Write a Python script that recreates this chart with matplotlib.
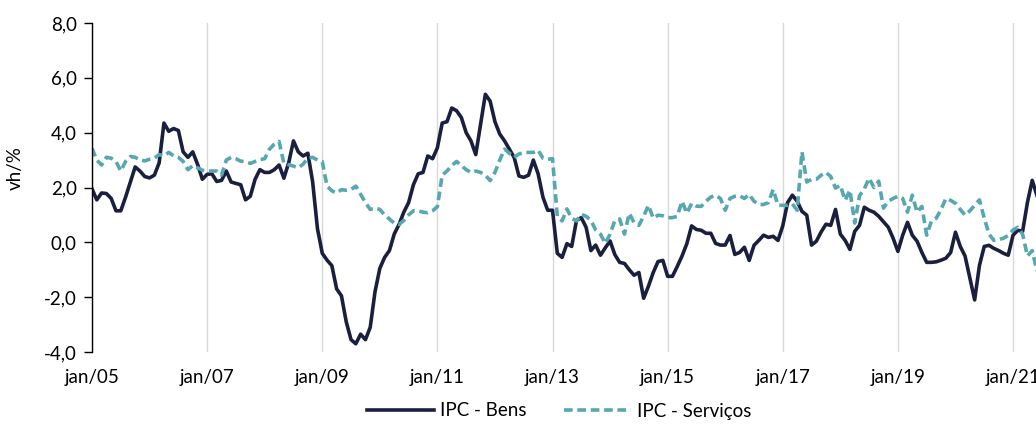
import matplotlib.pyplot as plt
import numpy as np

# month index 0 = jan/05
bens = [
    1.95, 1.55, 1.80, 1.78, 1.60, 1.15, 1.15, 1.65, 2.20, 2.75, 2.60, 2.40,
    2.35, 2.45, 2.90, 4.35, 4.05, 4.15, 4.08, 3.30, 3.10, 3.30, 2.85, 2.30,
    2.48, 2.50, 2.22, 2.26, 2.60, 2.20, 2.15, 2.10, 1.55, 1.68, 2.30, 2.65,
    2.55, 2.55, 2.65, 2.82, 2.34, 2.90, 3.70, 3.30, 3.15, 3.25, 2.20, 0.50,
    -0.40, -0.65, -0.85, -1.70, -1.95, -2.90, -3.55, -3.70, -3.35, -3.55, -3.10, -1.80,
    -0.95, -0.55, -0.30, 0.30, 0.65, 1.10, 1.45, 2.10, 2.50, 2.55, 3.15, 3.05,
    3.45, 4.35, 4.40, 4.90, 4.80, 4.55, 4.00, 3.70, 3.20, 4.30, 5.40, 5.15,
    4.40, 3.95, 3.70, 3.40, 3.10, 2.42, 2.37, 2.45, 3.00, 2.50, 1.65, 1.17,
    1.17, -0.40, -0.55, -0.05, -0.15, 0.80, 0.90, 0.55, -0.30, -0.10, -0.47, -0.20,
    0.05, -0.45, -0.73, -0.77, -1.00, -1.20, -1.10, -2.04, -1.60, -1.10, -0.70, -0.66,
    -1.24, -1.24, -0.88, -0.50, -0.05, 0.60, 0.47, 0.44, 0.33, 0.33, -0.04, -0.10,
    -0.10, 0.25, -0.44, -0.37, -0.18, -0.66, -0.11, 0.07, 0.26, 0.18, 0.22, 0.07,
    0.60, 1.45, 1.72, 1.50, 1.13, 0.99, -0.10, 0.04, 0.38, 0.66, 0.62, 1.20,
    0.30, 0.07, -0.26, 0.40, 0.62, 1.28, 1.17, 1.10, 0.95, 0.75, 0.55, 0.15,
    -0.33, 0.26, 0.73, 0.26, 0.04, -0.37, -0.73, -0.73, -0.71, -0.65, -0.58, -0.37,
    0.37, -0.15, -0.50, -1.30, -2.10, -0.84, -0.15, -0.11, -0.22, -0.30, -0.40, -0.47,
    0.26, 0.44, 0.40, 1.45, 2.26, 1.70,
]
servicos = [
    3.43, 3.00, 2.82, 3.10, 3.07, 2.95, 2.60, 2.95, 3.13, 3.10, 3.00, 2.97,
    3.03, 3.07, 3.20, 3.15, 3.28, 3.15, 3.10, 2.95, 2.65, 2.80, 2.72, 2.63,
    2.60, 2.60, 2.60, 2.45, 3.00, 3.10, 3.05, 2.96, 2.94, 2.88, 2.95, 3.02,
    3.05, 3.40, 3.58, 3.68, 2.88, 2.83, 2.78, 2.72, 2.85, 3.07, 3.10, 3.00,
    2.95, 2.05, 1.88, 1.80, 1.92, 1.90, 1.93, 2.05, 1.75, 1.45, 1.20, 1.25,
    1.20, 1.00, 0.85, 0.70, 0.65, 0.80, 1.00, 1.15, 1.15, 1.10, 1.08, 1.15,
    1.30, 2.45, 2.60, 2.80, 2.95, 2.80, 2.65, 2.55, 2.60, 2.55, 2.45, 2.25,
    2.55, 3.00, 3.40, 3.25, 3.10, 3.22, 3.27, 3.28, 3.28, 3.36, 3.07, 3.03,
    3.05, 0.95, 0.78, 1.22, 0.88, 0.78, 1.02, 0.95, 0.80, 0.45, 0.30, -0.04,
    0.30, 0.80, 0.85, 0.30, 1.06, 0.72, 0.62, 0.95, 1.35, 0.88, 0.99, 0.97,
    0.90, 0.90, 0.95, 1.50, 1.06, 1.42, 1.32, 1.31, 1.50, 1.65, 1.72, 1.60,
    1.17, 1.60, 1.68, 1.70, 1.60, 1.75, 1.50, 1.38, 1.38, 1.45, 1.93, 1.35,
    1.35, 1.35, 1.40, 1.17, 3.30, 2.20, 2.30, 2.30, 2.45, 2.55, 2.40, 1.98,
    2.08, 1.53, 1.90, 0.70, 1.70, 1.95, 2.34, 2.00, 2.23, 1.25, 1.50, 1.60,
    1.68, 1.60, 1.10, 1.72, 1.10, 1.31, 0.26, 0.78, 0.88, 1.20, 1.60, 1.53,
    1.42, 1.20, 0.99, 1.15, 1.35, 1.55, 0.88, 0.30, 0.07, 0.10, 0.15, 0.25,
    0.45, 0.55, 0.30, -0.50, -0.30, -1.05,
]
tick_months = [0, 24, 48, 72, 96, 120, 144, 168, 192]
tick_labels = ['jan/05', 'jan/07', 'jan/09', 'jan/11', 'jan/13',
               'jan/15', 'jan/17', 'jan/19', 'jan/21']
y_ticks = [-4, -2, 0, 2, 4, 6, 8]

plt.rcParams['font.family'] = ['Lato', 'DejaVu Sans']
fs = 13.5

fig = plt.figure(figsize=(10.36, 4.30), dpi=100)
ax = fig.add_axes((92/1036, 78/430, 944/1036, 329/430))

months = np.arange(len(bens))
ax.plot(months, bens, color='#1b1f3f', lw=2.6, label='IPC - Bens',
        solid_joinstyle='round')
ax.plot(months, servicos, color='#57a7b1', lw=2.6, label='IPC - Serviços',
        dashes=(2.4, 1.3))

ax.set_xlim(0, 944/4.797)
ax.set_ylim(-4, 8)
ax.set_xticks(tick_months)
ax.set_xticklabels(tick_labels)
ax.set_yticks(y_ticks)
ax.set_yticklabels([f'{v:.1f}'.replace('.', ',') for v in y_ticks])
ax.tick_params(axis='x', length=0, pad=12, labelsize=fs, colors='#000000')
ax.tick_params(axis='y', length=6, width=1, pad=5, labelsize=fs)
ax.grid(axis='x', color='#d9d9d9', lw=1)
ax.set_axisbelow(True)
for s in ['top', 'right', 'bottom']:
    ax.spines[s].set_visible(False)
ax.spines['left'].set_linewidth(1)

ax.set_ylabel('vh/%', fontsize=fs)
ax.yaxis.set_label_coords(-0.072, 0.56)

fig.legend(loc='center', bbox_to_anchor=(559/1036, 1 - 411/430), ncol=2,
           frameon=False, fontsize=fs, handlelength=3.6, columnspacing=2.0,
           handletextpad=0.3)

fig.savefig('out.png', dpi=100)
